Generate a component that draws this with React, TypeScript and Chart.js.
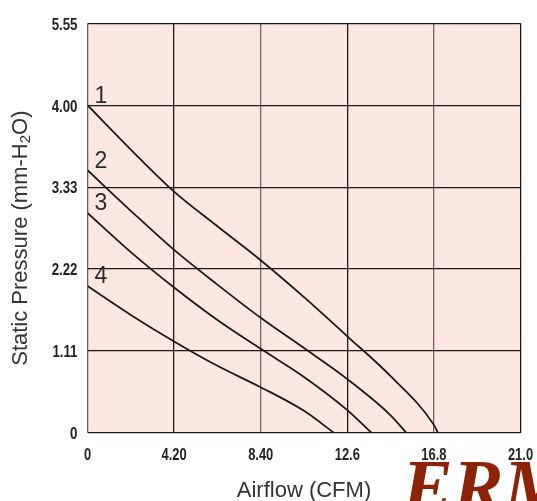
import React, { useEffect, useRef } from "react";
import { Chart, registerables } from "chart.js";

Chart.register(...registerables);

// ---- data ----
const xTickValues = [0, 4.2, 8.4, 12.6, 16.8, 21.0];
const xTickLabels = ["0", "4.20", "8.40", "12.6", "16.8", "21.0"];
const yTickValues = [0, 1.11, 2.22, 3.33, 4.44, 5.55];
const yTickLabels = ["0", "1.11", "2.22", "3.33", "4.00", "5.55"];

const curveNames = ["1", "2", "3", "4"];

const curve1X = [0, 2.1, 4.2, 6.3, 8.4, 10.5, 12.6, 14.7, 16.8, 17.0];
const curve1Y = [4.44, 3.84, 3.27, 2.8, 2.34, 1.84, 1.31, 0.77, 0.11, 0];

const curve2X = [0, 2.1, 4.2, 6.3, 8.4, 10.5, 12.6, 14.7, 15.47];
const curve2Y = [3.56, 3.01, 2.48, 2.01, 1.56, 1.15, 0.73, 0.24, 0];

const curve3X = [0, 2.1, 4.2, 6.3, 8.4, 10.5, 12.6, 13.78];
const curve3Y = [2.98, 2.45, 1.97, 1.53, 1.14, 0.76, 0.31, 0];

const curve4X = [0, 2.1, 4.2, 6.3, 8.4, 10.5, 11.96];
const curve4Y = [1.99, 1.6, 1.24, 0.91, 0.62, 0.3, 0];

const xTitle = "Airflow (CFM)";
const yTitleParts = ["Static Pressure (mm-H", "2", "O)"];
const logoText = "ERM";

// ---- styles ----
const GRID_BLACK = "#231815";
const GRID_GREY = "#6f6460";
const xGridColors = [GRID_GREY, GRID_BLACK, GRID_GREY, GRID_BLACK, GRID_GREY, GRID_BLACK];
const PLOT_BG = "#fde8e1";
const TEXT_FONT = "'Liberation Sans', Arial, 'DejaVu Sans', sans-serif";

const bgPlugin = {
  id: "plotBg",
  beforeDraw(chart: any) {
    const { ctx, chartArea } = chart;
    ctx.save();
    ctx.fillStyle = PLOT_BG;
    ctx.fillRect(chartArea.left, chartArea.top, chartArea.right - chartArea.left, chartArea.bottom - chartArea.top);
    ctx.restore();
  },
};

function drawNarrow(ctx: any, text: string, x: number, y: number, align: string, sx: number) {
  ctx.save();
  ctx.translate(x, y);
  ctx.scale(sx, 1);
  ctx.textAlign = align;
  ctx.fillText(text, 0, 0);
  ctx.restore();
}

const overlayPlugin = {
  id: "overlay",
  afterDraw(chart: any) {
    const { ctx, chartArea } = chart;
    const xs = chart.scales.x;
    const ys = chart.scales.y;

    // tick labels (bold, condensed)
    ctx.save();
    ctx.fillStyle = "#222222";
    ctx.textBaseline = "alphabetic";
    ctx.font = `bold 17px ${TEXT_FONT}`;
    xs.ticks.forEach((t: any, i: number) => {
      drawNarrow(ctx, xTickLabels[i], xs.getPixelForValue(t.value), chartArea.bottom + 26.5, "center", 0.76);
    });
    ctx.font = `bold 16px ${TEXT_FONT}`;
    ys.ticks.forEach((t: any, i: number) => {
      drawNarrow(ctx, yTickLabels[i], chartArea.left - 10, ys.getPixelForValue(t.value) + 6.3, "right", 0.83);
    });
    ctx.restore();

    ctx.save();
    // curve number labels
    ctx.font = `23px ${TEXT_FONT}`;
    ctx.fillStyle = "#2b2b2b";
    ctx.textAlign = "center";
    ctx.textBaseline = "middle";
    chart.data.datasets.forEach((ds: any, i: number) => {
      const p0 = ds.data[0];
      const px = xs.getPixelForValue(p0.x) + 13.5;
      const py = ys.getPixelForValue(p0.y) - 9;
      ctx.fillText(curveNames[i], px, py);
    });

    // y title with subscript
    const big = `22px ${TEXT_FONT}`;
    const small = `15px ${TEXT_FONT}`;
    ctx.font = big;
    const w0 = ctx.measureText(yTitleParts[0]).width;
    const w2 = ctx.measureText(yTitleParts[2]).width;
    ctx.font = small;
    const w1 = ctx.measureText(yTitleParts[1]).width;
    const total = w0 + w1 + w2;
    const cy = (chartArea.top + chartArea.bottom) / 2 + 10;
    ctx.translate(26.5, cy);
    ctx.rotate(-Math.PI / 2);
    ctx.textAlign = "left";
    ctx.textBaseline = "alphabetic";
    ctx.fillStyle = "#333333";
    let x = -total / 2;
    ctx.font = big;
    ctx.fillText(yTitleParts[0], x, 0);
    x += w0;
    ctx.font = small;
    ctx.fillText(yTitleParts[1], x, 3);
    x += w1;
    ctx.font = big;
    ctx.fillText(yTitleParts[2], x, 0);
    ctx.restore();

    // logo
    ctx.save();
    ctx.font = `italic bold 76px 'Liberation Serif', 'Times New Roman', serif`;
    ctx.fillStyle = "#8c2207";
    ctx.textAlign = "left";
    ctx.textBaseline = "alphabetic";
    ctx.fillText(logoText, 402, 512);
    ctx.restore();
  },
};

function makeData(xv: number[], yv: number[]) {
  return xv.map((x, i) => ({ x, y: yv[i] }));
}

export default function App() {
  const ref = useRef<HTMLCanvasElement | null>(null);

  useEffect(() => {
    if (!ref.current) return;
    const series = [
      makeData(curve1X, curve1Y),
      makeData(curve2X, curve2Y),
      makeData(curve3X, curve3Y),
      makeData(curve4X, curve4Y),
    ];
    const chart = new Chart(ref.current, {
      type: "line",
      data: {
        datasets: series.map((d, i) => ({
          label: curveNames[i],
          data: d,
          borderColor: "#1e1a18",
          borderWidth: 1.8,
          pointRadius: 0,
          fill: false,
          cubicInterpolationMode: "monotone" as const,
        })),
      },
      options: {
        animation: false,
        responsive: false,
        layout: { padding: { top: 23.3, right: 16.5, left: 0, bottom: 0 } },
        plugins: {
          legend: { display: false },
          tooltip: { enabled: false },
        },
        scales: {
          x: {
            type: "linear",
            min: 0,
            max: 21,
            afterBuildTicks: (s: any) => {
              s.ticks = xTickValues.map((v) => ({ value: v }));
            },
            afterFit: (s: any) => {
              s.height = 68;
              s.paddingLeft = 0;
              s.paddingRight = 0;
            },
            ticks: {
              display: false,
              autoSkip: false,
              callback: (_v: any, i: number) => xTickLabels[i],
            },
            grid: {
              drawTicks: false,
              lineWidth: 1.3,
              color: (c: any) => xGridColors[c.index] ?? GRID_BLACK,
            },
            border: { display: false },
            title: {
              display: true,
              text: xTitle,
              color: "#333333",
              padding: 0,
              font: { family: TEXT_FONT, size: 22, lineHeight: 0.95 },
            },
          },
          y: {
            type: "linear",
            min: 0,
            max: 5.55,
            afterBuildTicks: (s: any) => {
              s.ticks = yTickValues.map((v) => ({ value: v }));
            },
            afterFit: (s: any) => {
              s.width = 87.5;
              s.paddingTop = 0;
              s.paddingBottom = 0;
            },
            ticks: {
              display: false,
              autoSkip: false,
              callback: (_v: any, i: number) => yTickLabels[i],
            },
            grid: {
              drawTicks: false,
              lineWidth: 1.3,
              color: GRID_BLACK,
            },
            border: { display: false },
          },
        },
      },
      plugins: [bgPlugin, overlayPlugin],
    });
    return () => chart.destroy();
  }, []);

  return (
    <div style={{ position: "absolute", left: 0, top: 0, width: 537, height: 501, overflow: "hidden", background: "#ffffff" }}>
      <canvas ref={ref} width={537} height={501} style={{ width: 537, height: 501, display: "block" }} />
    </div>
  );
}
